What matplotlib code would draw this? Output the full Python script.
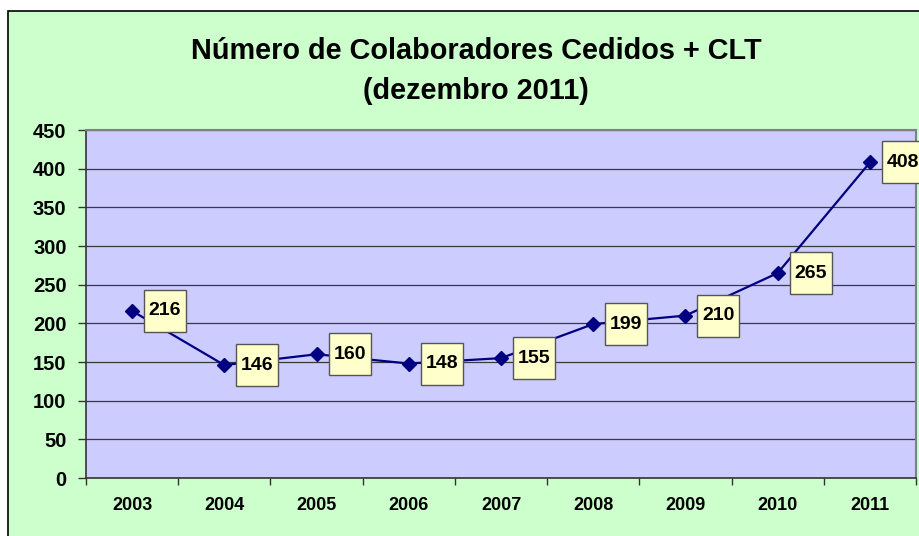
import matplotlib
matplotlib.use("Agg")
import matplotlib.pyplot as plt
from matplotlib.patches import Rectangle
from matplotlib.ticker import FixedLocator, NullFormatter
from matplotlib.transforms import offset_copy

years = ["2003", "2004", "2005", "2006", "2007", "2008", "2009", "2010", "2011"]
colaboradores = [216, 146, 160, 148, 155, 199, 210, 265, 408]
yticks = [0, 50, 100, 150, 200, 250, 300, 350, 400, 450]

plt.rcParams["font.family"] = ["Liberation Sans", "DejaVu Sans"]
plt.rcParams["font.weight"] = "bold"

W, H = 919, 536
fig = plt.figure(figsize=(W / 100, H / 100), dpi=100, facecolor="white")

# green chart background with black frame, kept behind the axes
fig.patches.append(Rectangle((8 / W, 0 - 0.01), 1.0, (H - 11) / H + 0.01,
                             transform=fig.transFigure, facecolor="#CCFFCC",
                             edgecolor="black", linewidth=1.2, zorder=-5))

fig.text(476 / W, 1 - 51 / H, "Número de Colaboradores Cedidos + CLT",
         ha="center", va="center", fontsize=20.8, fontweight="bold")
fig.text(476 / W, 1 - 91 / H, "(dezembro 2011)",
         ha="center", va="center", fontsize=20.8, fontweight="bold")

ax = fig.add_axes([86 / W, (H - 478) / H, 830 / W, 348 / H])
ax.set_facecolor("#CCCCFF")

x = list(range(len(years)))
ax.plot(x, colaboradores, color="#000080", linewidth=1.6, marker="D",
        markersize=7.5, zorder=3)

# value labels: square yellow boxes just right of each point
label_trans = offset_copy(ax.transData, fig=fig, x=33, y=0, units="dots")
ax.plot(x, colaboradores, linestyle="none", marker="s", markersize=30,
        markerfacecolor="#FFFFCC", markeredgecolor="#555555",
        markeredgewidth=1, transform=label_trans, zorder=4, clip_on=False)
for xi, v in zip(x, colaboradores):
    ax.text(xi, v, str(v), transform=label_trans, ha="center", va="center",
            fontsize=14, fontweight="bold", zorder=5, clip_on=False)

ax.set_xlim(-0.5, len(years) - 0.5)
ax.set_ylim(0, 450)
ax.set_yticks(yticks)
ax.set_yticklabels([str(t) for t in yticks], fontsize=14.5, fontweight="bold")
ax.set_xticks(x)
ax.set_xticklabels(years, fontsize=13, fontweight="bold")
ax.tick_params(axis="x", which="major", length=0, pad=14)
ax.xaxis.set_minor_locator(FixedLocator([i - 0.5 for i in range(len(years) + 1)]))
ax.xaxis.set_minor_formatter(NullFormatter())
ax.tick_params(axis="x", which="minor", length=5, width=1, color="#333333")
ax.tick_params(axis="y", length=6, width=1, color="#333333", pad=8)

ax.grid(axis="y", color="#3a3a3a", linewidth=0.9)
ax.set_axisbelow(True)

for side in ("top", "right"):
    ax.spines[side].set_color("#808080")
    ax.spines[side].set_linewidth(1.5)
for side in ("left", "bottom"):
    ax.spines[side].set_color("#333333")
    ax.spines[side].set_linewidth(1.2)

fig.savefig("out.png", dpi=100)
